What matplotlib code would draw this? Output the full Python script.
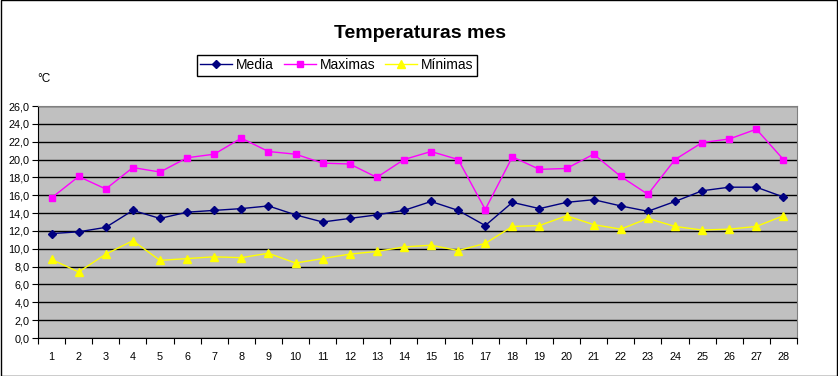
import matplotlib.pyplot as plt
from matplotlib.ticker import FixedLocator, FuncFormatter

plt.rcParams['font.family'] = ['Liberation Sans', 'DejaVu Sans']

# data
dias = list(range(1, 29))
media = [11.7, 11.9, 12.4, 14.3, 13.4, 14.1, 14.3, 14.5, 14.8, 13.8,
         13.0, 13.4, 13.8, 14.3, 15.3, 14.3, 12.6, 15.2, 14.5, 15.2,
         15.5, 14.8, 14.2, 15.3, 16.5, 16.9, 16.9, 15.8]
maximas = [15.7, 18.1, 16.7, 19.1, 18.6, 20.2, 20.6, 22.4, 20.9, 20.6,
           19.6, 19.5, 18.0, 20.0, 20.9, 20.0, 14.4, 20.3, 18.9, 19.0,
           20.6, 18.1, 16.1, 20.0, 21.9, 22.3, 23.4, 20.0]
minimas = [8.8, 7.4, 9.4, 10.9, 8.7, 8.9, 9.1, 9.0, 9.5, 8.4,
           8.9, 9.4, 9.7, 10.2, 10.4, 9.8, 10.6, 12.5, 12.6, 13.7,
           12.7, 12.2, 13.4, 12.5, 12.1, 12.2, 12.5, 13.7]

fig = plt.figure(figsize=(8.38, 3.76), dpi=100)
ax = fig.add_axes([38 / 838, 38 / 376, 759 / 838, 232 / 376])
ax.set_facecolor('#c0c0c0')

ax.plot(dias, media, color='#000080', marker='D', markersize=4.5, linewidth=1, label='Media')
ax.plot(dias, maximas, color='#ff00ff', marker='s', markersize=5, linewidth=1, label='Maximas')
ax.plot(dias, minimas, color='#ffff00', marker='^', markersize=5.5, linewidth=1, label='Mínimas')

ax.set_xlim(0.5, 28.5)
ax.set_ylim(0, 26)
ax.set_yticks([i * 2 for i in range(14)])
ax.yaxis.set_major_formatter(FuncFormatter(lambda v, p: f'{v:.1f}'.replace('.', ',')))
ax.grid(axis='y', color='black', linewidth=1)
ax.set_axisbelow(True)

# category ticks between the points, labels centred
ax.xaxis.set_major_locator(FixedLocator([i + 0.5 for i in range(0, 29)]))
ax.xaxis.set_major_formatter(FuncFormatter(lambda v, p: ''))
ax.xaxis.set_minor_locator(FixedLocator(dias))
ax.xaxis.set_minor_formatter(FuncFormatter(lambda v, p: str(int(round(v)))))
ax.tick_params(axis='x', which='minor', length=0, labelsize=7.8, pad=10)
ax.tick_params(axis='x', which='major', length=4, direction='out', color='black')
ax.tick_params(axis='y', length=4, direction='out', labelsize=7.8, pad=2)

for side in ['top', 'right']:
    ax.spines[side].set_color('#808080')
for side in ['left', 'bottom']:
    ax.spines[side].set_color('black')

fig.text(0.501, 0.912, 'Temperaturas mes', ha='center', va='center', fontsize=14, fontweight='bold')
fig.text(0.052, 0.79, '°C', ha='center', va='center', fontsize=8.5)

leg = fig.legend(loc='center', bbox_to_anchor=(0.402, 0.827), ncol=3, fontsize=10,
                 frameon=True, fancybox=False, framealpha=1, edgecolor='black',
                 handlelength=2.3, handletextpad=0.3, columnspacing=0.7,
                 borderpad=0.25)
leg.get_frame().set_linewidth(1)

# border around the whole chart
fig.patches.append(plt.Rectangle((0.0006, 0.0013), 0.9988, 0.9974, transform=fig.transFigure,
                                 fill=False, edgecolor='black', linewidth=1))

fig.savefig('out.png', dpi=100)
